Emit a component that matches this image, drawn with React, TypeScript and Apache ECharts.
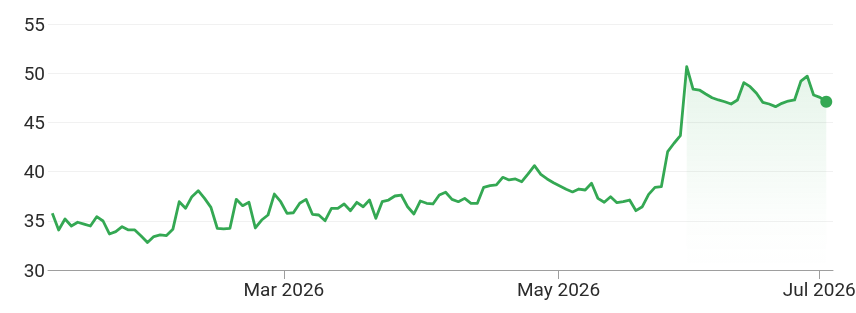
import React, { useEffect, useRef } from "react";
import * as echarts from "echarts";

// Daily closing values (one per trading day, Jan – early Jul 2026)
const prices: number[] = [
  35.76, 34.07, 35.18, 34.47, 34.85, 34.67, 34.47, 35.42, 34.98, 33.66,
  33.9, 34.4, 34.07, 34.07, 33.46, 32.8, 33.4, 33.56, 33.5, 34.13,
  36.94, 36.27, 37.45, 38.06, 37.28, 36.37, 34.24, 34.17, 34.24, 37.18,
  36.54, 36.88, 34.27, 35.08, 35.59, 37.72, 36.94, 35.76, 35.82, 36.78,
  37.18, 35.66, 35.59, 35.01, 36.27, 36.27, 36.71, 36.03, 36.88, 36.43,
  37.11, 35.25, 36.94, 37.11, 37.52, 37.62, 36.43, 35.69, 37.01, 36.78,
  36.71, 37.62, 37.9, 37.18, 36.94, 37.28, 36.78, 36.78, 38.4, 38.57,
  38.64, 39.42, 39.15, 39.25, 38.97, 39.76, 40.6, 39.72, 39.25, 38.87,
  38.54, 38.2, 37.93, 38.23, 38.13, 38.81, 37.28, 36.88, 37.45, 36.84,
  36.94, 37.11, 36.03, 36.43, 37.69, 38.4, 38.47, 42.03, 42.88, 43.65,
  50.66, 48.39, 48.29, 47.89, 47.51, 47.28, 47.1, 46.87, 47.28, 49.04,
  48.63, 47.96, 47.04, 46.87, 46.6, 46.94, 47.17, 47.28, 49.2, 49.7,
  47.78, 47.55, 47.1,
];

// Index from which the shaded range begins
const highlightStart = 100;

// X-axis month ticks (positions in trading-day index units) and their labels
const monthTickPositions: number[] = [36.5, 79.8, 120.9];
const monthTickLabels: string[] = ["Mar 2026", "May 2026", "Jul 2026"];

// Y-axis range
const yMin = 30;
const yMax = 55;
const yStep = 5;

const GREEN = "#34a853";

export default function App() {
  const ref = useRef<HTMLDivElement>(null);

  useEffect(() => {
    if (!ref.current) return;
    const chart = echarts.init(ref.current, undefined, { renderer: "svg" });

    const lineData = prices.map((v, i) => [i, v]);
    const areaData = prices
      .slice(highlightStart)
      .map((v, k) => [k + highlightStart, v]);
    const lastIdx = prices.length - 1;

    chart.setOption({
      animation: false,
      textStyle: { fontFamily: "Roboto, 'Noto Sans', sans-serif" },
      grid: {
        left: 48,
        right: 23,
        top: 24,
        bottom: 43,
        containLabel: false,
        outerBoundsMode: "none",
      },
      xAxis: {
        type: "value",
        min: -0.68,
        max: lastIdx + 1.06,
        axisLine: { show: true, lineStyle: { color: "#9e9e9e", width: 1 } },
        axisTick: {
          show: true,
          length: 9,
          customValues: monthTickPositions,
          lineStyle: { color: "#9e9e9e", width: 1 },
        },
        axisLabel: {
          customValues: monthTickPositions,
          margin: 10,
          fontSize: 19,
          color: "#2b2b2b",
          formatter: (val: number) => {
            const k = monthTickPositions.findIndex((p) => Math.abs(p - val) < 1e-6);
            return k >= 0 ? monthTickLabels[k] : "";
          },
        },
        splitLine: { show: false },
      },
      yAxis: {
        type: "value",
        min: yMin,
        max: yMax,
        interval: yStep,
        axisLine: { show: false },
        axisTick: { show: false },
        axisLabel: { fontSize: 19, color: "#2b2b2b", margin: 3 },
        splitLine: { show: true, lineStyle: { color: "#f1f1f1", width: 1 } },
      },
      series: [
        {
          type: "line",
          data: areaData,
          symbol: "none",
          silent: true,
          lineStyle: { opacity: 0, width: 0 },
          areaStyle: {
            origin: "start",
            color: new echarts.graphic.LinearGradient(0, 0, 0, 1, [
              { offset: 0, color: "rgba(52,168,83,0.18)" },
              { offset: 0.75, color: "rgba(52,168,83,0.02)" },
              { offset: 1, color: "rgba(52,168,83,0.0)" },
            ]),
          },
          z: 1,
        },
        {
          type: "line",
          data: lineData,
          symbol: "none",
          lineStyle: { color: GREEN, width: 2.8, join: "round" },
          z: 2,
        },
        {
          type: "scatter",
          data: [lineData[lastIdx]],
          symbol: "circle",
          symbolSize: 12,
          itemStyle: { color: GREEN, opacity: 1 },
          z: 3,
        },
      ],
    });

    return () => chart.dispose();
  }, []);

  return (
    <div
      ref={ref}
      style={{ position: "fixed", left: 0, top: 0, width: 856, height: 313 }}
    />
  );
}
